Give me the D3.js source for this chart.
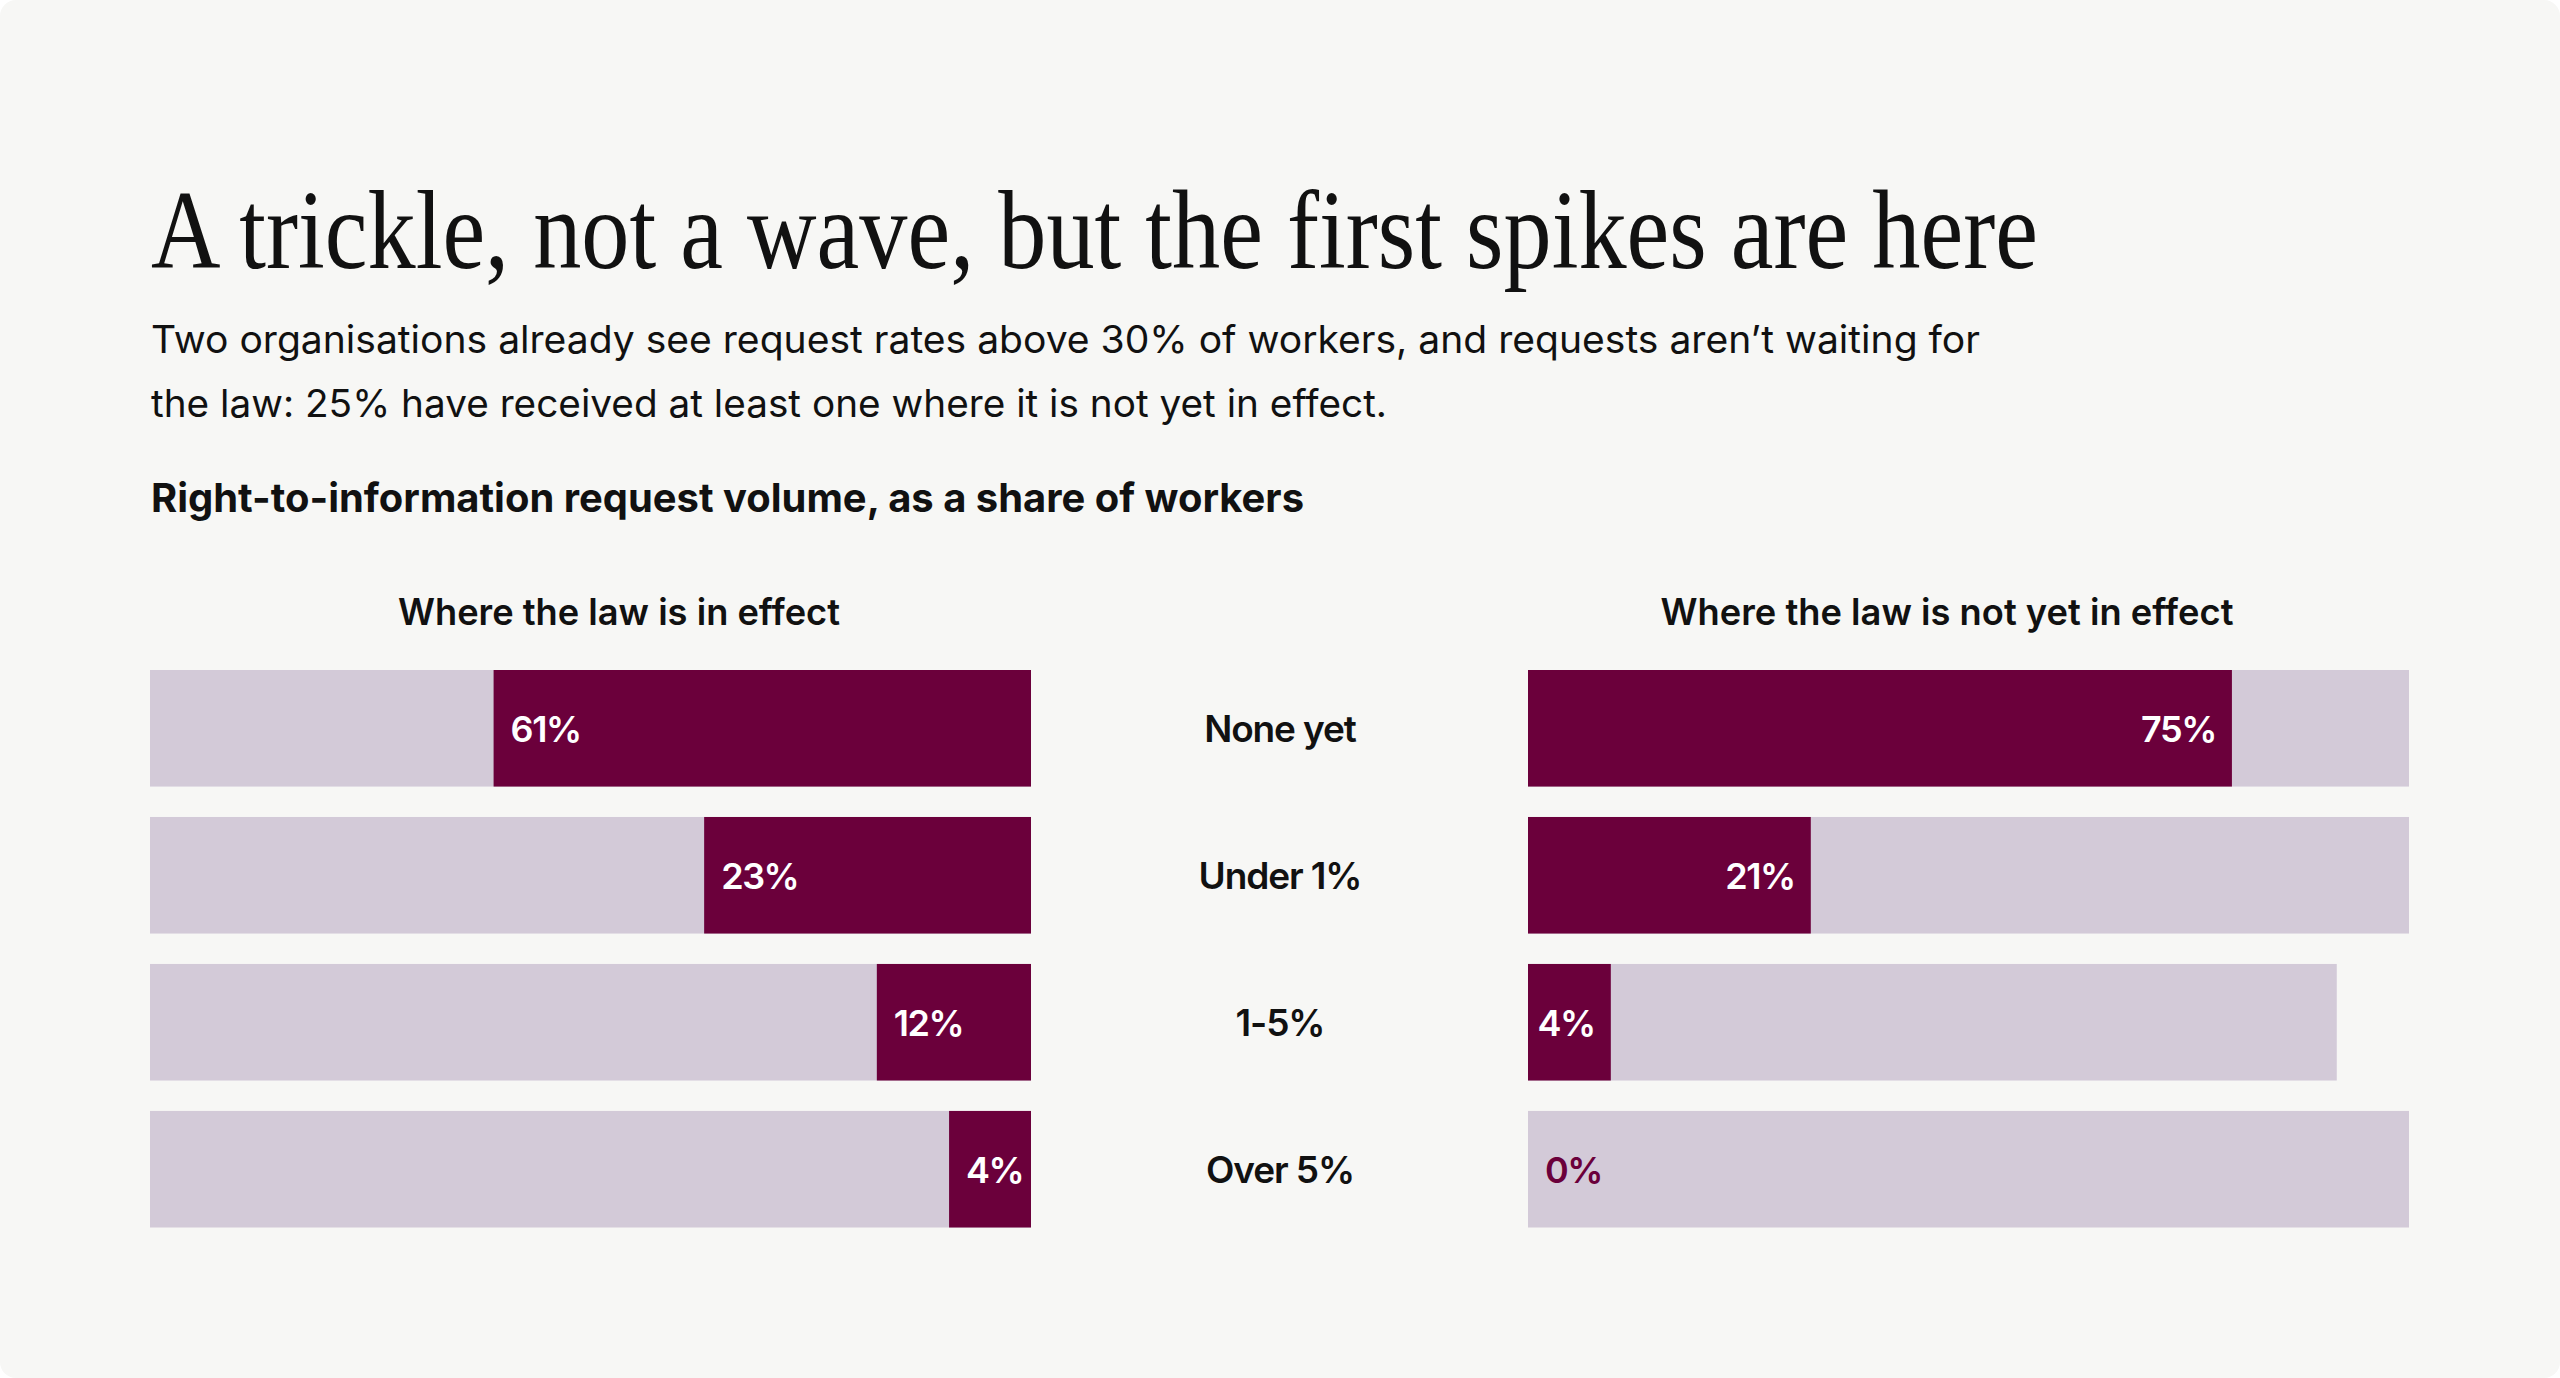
<!DOCTYPE html>
<html lang="en">
<head>
<meta charset="UTF-8"/>
<title>Right-to-information request volume</title>
<script src="https://d3js.org/d3.v7.min.js"></script>
<style>
	html, body { margin: 0; padding: 0; background: #ffffff; }
	svg { display: block; }
	.sans { font-family: Inter, "Noto Sans", sans-serif; fill: #111111; }
	.serif { font-family: "Liberation Serif", "DejaVu Serif", serif; fill: #111111; }
</style>
</head>
<body>
<div id="chart"></div>
<script>
	// categories (rows) shared by both panels
	var categories = ["None yet", "Under 1%", "1-5%", "Over 5%"];

	// printed percentages
	var inEffectValues = [61, 23, 12, 4];
	var notYetValues = [75, 21, 4, 0];

	// drawn bar lengths (share of the full track)
	var inEffectBars = [61, 37.1, 17.5, 9.3];
	var notYetBars = [79.9, 32.1, 9.4, 0];

	// length of the light track behind each bar
	var inEffectTrack = [100, 100, 100, 100];
	var notYetTrack = [100, 100, 91.8, 100];

	var panelTitles = ["Where the law is in effect", "Where the law is not yet in effect"];

	var w = 2560, h = 1378;
	var dark = "#6b003b";
	var light = "#d3cad8";

	var svg = d3.select("#chart").append("svg")
		.attr("width", w)
		.attr("height", h);

	svg.append("rect")
		.attr("width", w).attr("height", h)
		.attr("rx", 16)
		.attr("fill", "#f7f7f5");

	// headings
	svg.append("text").attr("class", "serif")
		.attr("x", 151).attr("y", 268)
		.attr("font-size", 113)
		.attr("textLength", 1887).attr("lengthAdjust", "spacingAndGlyphs")
		.text("A trickle, not a wave, but the first spikes are here");

	svg.append("text").attr("class", "sans")
		.attr("x", 151).attr("y", 353)
		.attr("font-size", 38.5)
		.attr("textLength", 1829).attr("lengthAdjust", "spacingAndGlyphs")
		.text("Two organisations already see request rates above 30% of workers, and requests aren\u2019t waiting for");
	svg.append("text").attr("class", "sans")
		.attr("x", 151).attr("y", 417)
		.attr("font-size", 38.5)
		.attr("textLength", 1236).attr("lengthAdjust", "spacingAndGlyphs")
		.text("the law: 25% have received at least one where it is not yet in effect.");

	svg.append("text").attr("class", "sans")
		.attr("x", 151).attr("y", 512)
		.attr("font-size", 40)
		.attr("font-weight", 700)
		.attr("textLength", 1153).attr("lengthAdjust", "spacingAndGlyphs")
		.text("Right-to-information request volume, as a share of workers");

	// scales
	var yScale = d3.scaleBand()
		.domain(categories)
		.range([670, 1227.5])
		.paddingInner(0.207)
		.paddingOuter(0);

	var xLeft = d3.scaleLinear().domain([0, 100]).range([1031, 150]);
	var xRight = d3.scaleLinear().domain([0, 100]).range([1528, 2409]);

	// panel titles
	svg.append("text").attr("class", "sans")
		.attr("x", 619).attr("y", 625)
		.attr("text-anchor", "middle")
		.attr("font-size", 37).attr("font-weight", 600)
		.attr("textLength", 442).attr("lengthAdjust", "spacingAndGlyphs")
		.text(panelTitles[0]);
	svg.append("text").attr("class", "sans")
		.attr("x", 1947).attr("y", 625)
		.attr("text-anchor", "middle")
		.attr("font-size", 37).attr("font-weight", 600)
		.attr("textLength", 573).attr("lengthAdjust", "spacingAndGlyphs")
		.text(panelTitles[1]);

	var rows = categories.map(function(c, i) {
		return {
			cat: c,
			lv: inEffectValues[i], lb: inEffectBars[i], lt: inEffectTrack[i],
			rv: notYetValues[i], rb: notYetBars[i], rt: notYetTrack[i]
		};
	});

	var g = svg.selectAll("g.row")
		.data(rows)
		.enter()
		.append("g")
		.attr("class", "row");

	// left panel: track + bar growing from the right edge
	g.append("rect")
		.attr("x", function(d) { return xLeft(d.lt); })
		.attr("y", function(d) { return yScale(d.cat); })
		.attr("width", function(d) { return xLeft(0) - xLeft(d.lt); })
		.attr("height", yScale.bandwidth())
		.attr("fill", light);
	g.append("rect")
		.attr("x", function(d) { return xLeft(d.lb); })
		.attr("y", function(d) { return yScale(d.cat); })
		.attr("width", function(d) { return xLeft(0) - xLeft(d.lb); })
		.attr("height", yScale.bandwidth())
		.attr("fill", dark);
	g.append("text").attr("class", "sans")
		.attr("x", function(d) { return xLeft(d.lb) + 17; })
		.attr("y", function(d) { return yScale(d.cat) + yScale.bandwidth() / 2 + 13.5; })
		.attr("font-size", 36).attr("font-weight", 600)
		.attr("letter-spacing", "-0.04em")
		.style("fill", function(d) { return d.lb > 0 ? "#ffffff" : dark; })
		.text(function(d) { return d.lv + "%"; });

	// right panel: track + bar growing from the left edge
	g.append("rect")
		.attr("x", xRight(0))
		.attr("y", function(d) { return yScale(d.cat); })
		.attr("width", function(d) { return xRight(d.rt) - xRight(0); })
		.attr("height", yScale.bandwidth())
		.attr("fill", light);
	g.append("rect")
		.attr("x", xRight(0))
		.attr("y", function(d) { return yScale(d.cat); })
		.attr("width", function(d) { return xRight(d.rb) - xRight(0); })
		.attr("height", yScale.bandwidth())
		.attr("fill", dark);
	g.append("text").attr("class", "sans")
		.attr("x", function(d) { return d.rb > 0 ? xRight(d.rb) - 16 : xRight(0) + 17; })
		.attr("y", function(d) { return yScale(d.cat) + yScale.bandwidth() / 2 + 13.5; })
		.attr("text-anchor", function(d) { return d.rb > 0 ? "end" : "start"; })
		.attr("font-size", 36).attr("font-weight", 600)
		.attr("letter-spacing", "-0.04em")
		.style("fill", function(d) { return d.rb > 0 ? "#ffffff" : dark; })
		.text(function(d) { return d.rv + "%"; });

	// category labels in the middle
	g.append("text").attr("class", "sans")
		.attr("x", 1280)
		.attr("y", function(d) { return yScale(d.cat) + yScale.bandwidth() / 2 + 13.5; })
		.attr("text-anchor", "middle")
		.attr("font-size", 37).attr("font-weight", 600)
		.attr("letter-spacing", "-0.03em")
		.text(function(d) { return d.cat; });
</script>
</body>
</html>
